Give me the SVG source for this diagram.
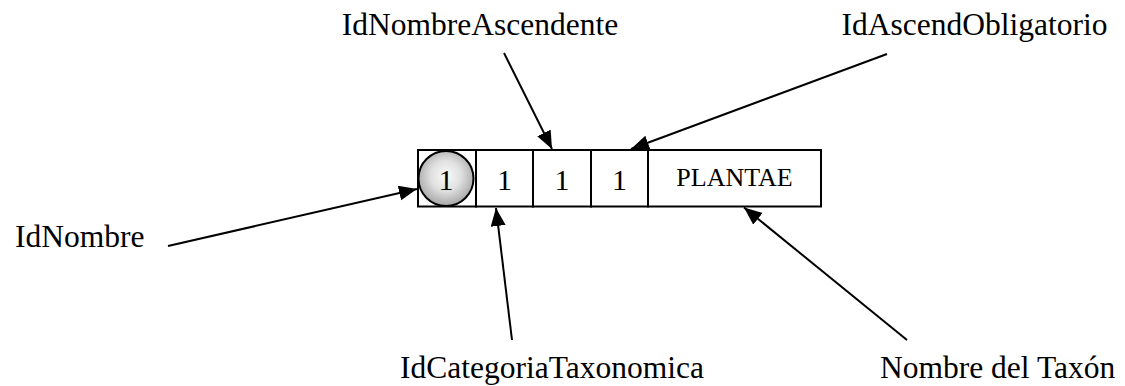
<svg xmlns="http://www.w3.org/2000/svg" width="1125" height="386" viewBox="0 0 1125 386">
  <style>
    .lbl { font-family: "Liberation Serif", "Times New Roman", serif; font-size: 31.5px; fill: #000; }
    .num { font-family: "Liberation Serif", "Times New Roman", serif; font-size: 30px; fill: #000; text-anchor: middle; }
    .name { font-family: "Liberation Serif", "Times New Roman", serif; font-size: 26px; fill: #000; text-anchor: middle; }
    .cell { fill: #fff; stroke: #000; stroke-width: 2; }
    .conn { stroke: #000; stroke-width: 2; fill: none; marker-end: url(#arr); }
  </style>
  <defs>
    <marker id="arr" markerUnits="userSpaceOnUse" markerWidth="20" markerHeight="16" refX="18" refY="7.5" orient="auto">
      <path d="M0,0 L18,7.5 L0,15 z" fill="#000"/>
    </marker>
    <radialGradient id="ball" cx="50%" cy="45%" r="55%">
      <stop offset="0" stop-color="#fbfbfb"/>
      <stop offset="0.5" stop-color="#e0e0e0"/>
      <stop offset="1" stop-color="#a6a6a6"/>
    </radialGradient>
  </defs>
  <rect width="1125" height="386" fill="#fff"/>

  <g id="record">
    <g id="cell-idnombre">
      <rect class="cell" x="418" y="150" width="58" height="56.5"/>
      <circle cx="446" cy="178.5" r="27.5" fill="url(#ball)" stroke="#000" stroke-width="2"/>
      <text class="num" x="446" y="190">1</text>
    </g>
    <g id="cell-idcategoria">
      <rect class="cell" x="476" y="150" width="57" height="56.5"/>
      <text class="num" x="504.5" y="190">1</text>
    </g>
    <g id="cell-idnombreasc">
      <rect class="cell" x="533" y="150" width="58" height="56.5"/>
      <text class="num" x="562" y="190">1</text>
    </g>
    <g id="cell-idascoblig">
      <rect class="cell" x="591" y="150" width="57" height="56.5"/>
      <text class="num" x="619.5" y="190">1</text>
    </g>
    <g id="cell-nombre">
      <rect class="cell" x="648" y="150" width="173" height="56.5"/>
      <text class="name" x="734.5" y="186">PLANTAE</text>
    </g>
  </g>

  <g id="label-idnombre"><text class="lbl" x="15" y="246.5">IdNombre</text></g>
  <g id="label-idnombreasc"><text class="lbl" x="480" y="35" text-anchor="middle">IdNombreAscendente</text></g>
  <g id="label-idascoblig"><text class="lbl" x="974.5" y="35" text-anchor="middle">IdAscendObligatorio</text></g>
  <g id="label-idcategoria"><text class="lbl" x="400" y="378">IdCategoriaTaxonomica</text></g>
  <g id="label-nombre"><text class="lbl" x="880" y="378">Nombre del Taxón</text></g>

  <g id="connectors">
    <line class="conn" x1="168" y1="246" x2="417" y2="189"/>
    <line class="conn" x1="512" y1="340" x2="496" y2="208"/>
    <line class="conn" x1="504" y1="53" x2="552" y2="149"/>
    <line class="conn" x1="887" y1="54" x2="631" y2="149"/>
    <line class="conn" x1="907" y1="340" x2="744" y2="207.5"/>
  </g>
</svg>
